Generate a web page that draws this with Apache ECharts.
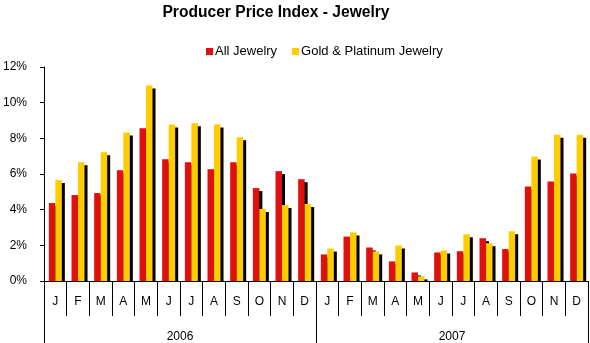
<!DOCTYPE html>
<html>
<head>
<meta charset="utf-8">
<script src="https://cdn.jsdelivr.net/npm/echarts@6/dist/echarts.min.js"></script>
<style>
  html, body { margin: 0; padding: 0; background: #fff; }
  #chart { width: 590px; height: 343px; }
</style>
</head>
<body>
<div id="chart"></div>
<script>
// Monthly year-over-year change of the jewelry producer price index, in percent
const months = ['J','F','M','A','M','J','J','A','S','O','N','D',
                'J','F','M','A','M','J','J','A','S','O','N','D'];
const years = ['2006', '2007'];
const allJewelry = [4.37, 4.82, 4.93, 6.21, 8.56, 6.83, 6.66, 6.27, 6.66, 5.21, 6.16, 5.71,
                    1.49, 2.49, 1.88, 1.10, 0.48, 1.60, 1.67, 2.40, 1.79, 5.30, 5.58, 6.03];
const goldPlatinum = [5.66, 6.66, 7.22, 8.33, 10.96, 8.78, 8.84, 8.78, 8.06, 4.04, 4.26, 4.32,
                      1.82, 2.72, 1.66, 1.99, 0.26, 1.71, 2.62, 2.12, 2.79, 6.98, 8.20, 8.20];
const yTicks = { min: 0, max: 12, step: 2 };

const font = 'Liberation Sans, Arial, sans-serif';
const shadow = { shadowColor: '#000', shadowOffsetX: 3, shadowOffsetY: 3, shadowBlur: 0 };
const gridBox = { left: 41, right: 2, top: 67, bottom: 60 };

const chart = echarts.init(document.getElementById('chart'), null, { renderer: 'canvas' });
chart.setOption({
  animation: false,
  backgroundColor: '#fff',
  textStyle: { fontFamily: font },
  title: {
    text: 'Producer Price Index - Jewelry',
    left: 271, textAlign: 'center', top: 0,
    textStyle: { fontFamily: font, fontSize: 15.6, fontWeight: 'bold', color: '#000' }
  },
  legend: {
    left: 201, top: 40,
    itemWidth: 7, itemHeight: 7, itemGap: 15,
    icon: 'rect',
    textStyle: { fontFamily: font, fontSize: 13, color: '#000', padding: [0, 0, 0, -3] },
    data: ['All Jewelry', 'Gold & Platinum Jewelry']
  },
  grid: Object.assign({ containLabel: false }, gridBox),
  xAxis: [
    {
      type: 'category', data: months, position: 'bottom', z: 60,
      axisLine: { show: true, lineStyle: { color: '#000', width: 1 } },
      axisTick: { show: true, length: 35, interval: 0, lineStyle: { color: '#000', width: 1 } },
      axisLabel: { show: true, interval: 0, margin: 15, fontFamily: font, fontSize: 12, color: '#000' }
    },
    {
      type: 'category', data: years, position: 'bottom', gridIndex: 0, z: 60,
      axisLine: { show: true, lineStyle: { color: '#000', width: 1 } },
      axisTick: { show: true, length: 62, interval: 0, lineStyle: { color: '#000', width: 1 } },
      axisLabel: { show: true, interval: 0, margin: 50, fontFamily: font, fontSize: 12, color: '#000' }
    }
  ],
  yAxis: {
    type: 'value', min: yTicks.min, max: yTicks.max, interval: yTicks.step, z: 60,
    axisLine: { show: true, lineStyle: { color: '#000', width: 1 } },
    axisTick: { show: true, length: 4, lineStyle: { color: '#000' } },
    splitLine: { show: false },
    axisLabel: { formatter: '{value}%', margin: 17, fontFamily: font, fontSize: 12, color: '#000' }
  },
  series: [
    {
      name: 'All Jewelry', type: 'bar', xAxisIndex: 0, data: allJewelry,
      barWidth: 6.5, barGap: '0%', clip: true, z: 2,
      itemStyle: Object.assign({ color: '#E0100E' }, shadow)
    },
    {
      name: 'Gold & Platinum Jewelry', type: 'bar', xAxisIndex: 0, data: goldPlatinum,
      barWidth: 6.5, barGap: '0%', clip: true, z: 2,
      itemStyle: Object.assign({ color: '#FFCC00' }, shadow)
    }
  ]
});

// white strip under the baseline so the bar drop shadows stop at 0%
const base = chart.convertToPixel({ gridIndex: 0 }, [0, 0]);
chart.setOption({
  graphic: [{
    type: 'rect', z: 50, silent: true,
    shape: { x: gridBox.left + 0.5, y: base[1] + 0.5, width: 590 - gridBox.left - gridBox.right - 1, height: 5 },
    style: { fill: '#fff' }
  }]
});
</script>
</body>
</html>
